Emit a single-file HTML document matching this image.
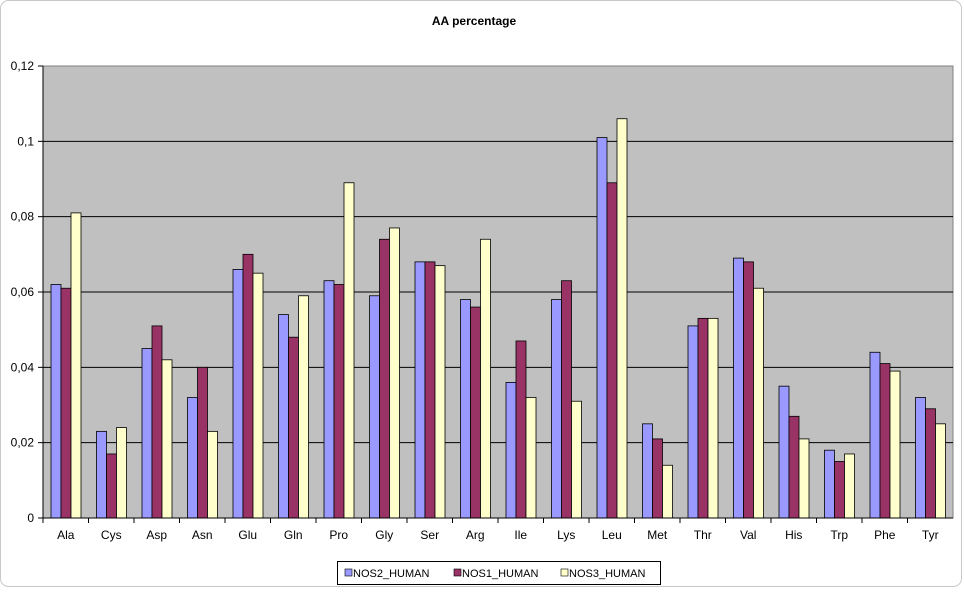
<!DOCTYPE html>
<html><head><meta charset="utf-8"><style>
body{margin:0;background:#fff;width:964px;height:590px;overflow:hidden;font-family:"Liberation Sans",Arial,sans-serif}
</style></head><body>
<svg id="chart" width="964" height="590" xmlns="http://www.w3.org/2000/svg" font-family="Liberation Sans, Arial, sans-serif">
<rect x="0.5" y="0.5" width="961" height="586" rx="8" fill="#fff" stroke="#c8c8c8"/>
<text x="474" y="25" text-anchor="middle" font-size="12" font-weight="bold">AA percentage</text>
<rect x="43" y="66" width="910" height="452" fill="#c0c0c0" stroke="#808080"/>
<g id="grid"></g><g id="bars"></g><g id="axes"></g>
<g>
<rect x="337.5" y="561.5" width="323" height="23" fill="#fff" stroke="#000"/>
<rect x="345" y="569" width="7" height="7" fill="#9999ff" stroke="#000" stroke-width="0.6"/>
<text x="353" y="577" font-size="11">NOS2_HUMAN</text>
<rect x="454" y="569" width="7" height="7" fill="#993366" stroke="#000" stroke-width="0.6"/>
<text x="462" y="577" font-size="11">NOS1_HUMAN</text>
<rect x="561" y="569" width="7" height="7" fill="#ffffcc" stroke="#000" stroke-width="0.6"/>
<text x="569" y="577" font-size="11">NOS3_HUMAN</text>
</g>
</svg>
<script>
const categories=["Ala","Cys","Asp","Asn","Glu","Gln","Pro","Gly","Ser","Arg","Ile","Lys","Leu","Met","Thr","Val","His","Trp","Phe","Tyr"];
const nos2=[0.062,0.023,0.045,0.032,0.066,0.054,0.063,0.059,0.068,0.058,0.036,0.058,0.101,0.025,0.051,0.069,0.035,0.018,0.044,0.032];
const nos1=[0.061,0.017,0.051,0.040,0.070,0.048,0.062,0.074,0.068,0.056,0.047,0.063,0.089,0.021,0.053,0.068,0.027,0.015,0.041,0.029];
const nos3=[0.081,0.024,0.042,0.023,0.065,0.059,0.089,0.077,0.067,0.074,0.032,0.031,0.106,0.014,0.053,0.061,0.021,0.017,0.039,0.025];
const yTicks=[0,0.02,0.04,0.06,0.08,0.1,0.12];
const yTickLabels=["0","0,02","0,04","0,06","0,08","0,1","0,12"];
const NS="http://www.w3.org/2000/svg";
const X0=43,X1=953,Y0=518,Y1=66,YMAX=0.12;
const bw=(X1-X0)/categories.length;
const y=v=>Y0-(v/YMAX)*(Y0-Y1);
const xc=i=>X0+i*bw;
function mk(tag,attrs,parent){const e=document.createElementNS(NS,tag);for(const k in attrs)e.setAttribute(k,attrs[k]);document.getElementById(parent).appendChild(e);return e;}
yTicks.forEach((t,i)=>{
  if(t>0&&t<YMAX){const g=mk('line',{x1:X0,x2:X1,y1:y(t),y2:y(t),stroke:'#000'},'grid');
  
  }
  const tk=mk('line',{x1:38,x2:X0,y1:y(t),y2:y(t),stroke:'#000'},'axes');
  
  
  const l=mk('text',{x:34,y:y(t)+4,'text-anchor':'end','font-size':'12'},'axes');
  l.textContent=yTickLabels[i];
  
  
});
const series=[[nos2,'#9999ff','nos2'],[nos1,'#993366','nos1'],[nos3,'#ffffcc','nos3']];
categories.forEach((c,i)=>{
  series.forEach((s,j)=>{
    const v=s[0][i];
    const r=mk('rect',{x:xc(i)+8+j*10,y:y(v),width:10,height:Y0-y(v),fill:s[1],stroke:'#000','stroke-width':0.8},'bars');
    
    
  });
  const tk=mk('line',{x1:xc(i),x2:xc(i),y1:Y0,y2:Y0+5,stroke:'#000'},'axes');
  
  
  const l=mk('text',{x:xc(i)+bw/2,y:539,'text-anchor':'middle','font-size':'12'},'axes');
  l.textContent=c;
  
  
});
const ax=mk('line',{x1:X0,x2:X1,y1:Y0,y2:Y0,stroke:'#000'},'axes');


const ay=mk('line',{x1:X0,x2:X0,y1:Y1,y2:Y0,stroke:'#000'},'axes');


</script>
</body></html>
